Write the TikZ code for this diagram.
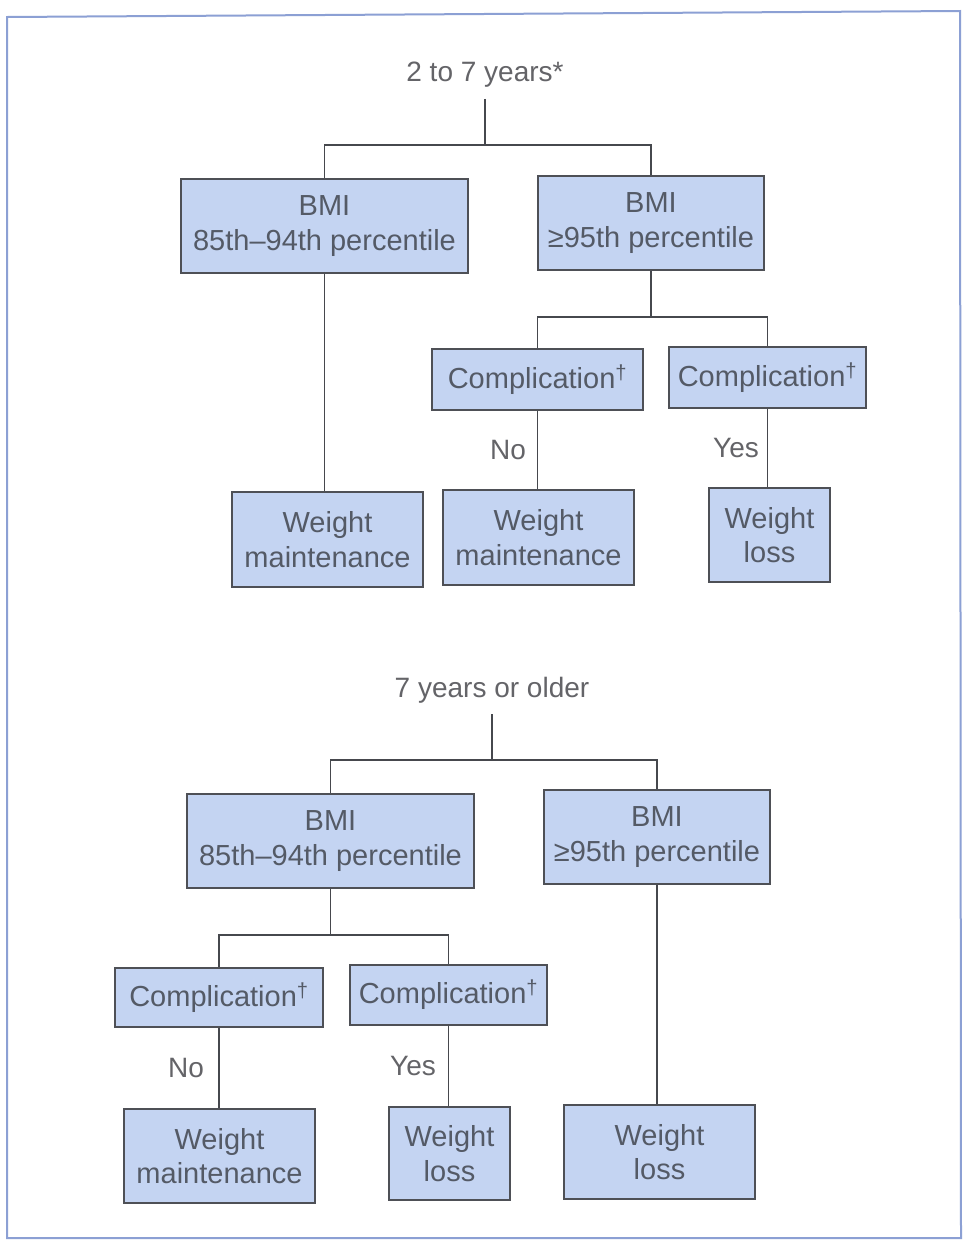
\documentclass[tikz,border=0pt]{standalone}
\usepackage{fontspec}
\setmainfont{Liberation Sans}
\definecolor{boxfill}{RGB}{196,212,242}
\definecolor{boxline}{RGB}{78,80,86}
\definecolor{ink}{RGB}{84,90,102}
\definecolor{lbl}{RGB}{100,100,104}
\definecolor{frame}{RGB}{140,160,212}
\begin{document}
\begin{tikzpicture}[x=1pt,y=-1pt,
  box/.style={draw=boxline, line width=1.8pt, fill=boxfill, inner sep=0pt,
    align=center, text=ink, font=\fontsize{29}{34.5}\selectfont},
  lab/.style={text=lbl, inner sep=0pt, font=\fontsize{28}{34}\selectfont},
  conn/.style={draw=boxline!90!black, line width=1.8pt}]
\useasboundingbox (0,0) rectangle (964,1240);
\fill[white] (0,0) rectangle (964,1240);
% outer frame
\draw[frame, line width=2pt] (7,17) -- (960,11) -- (961,1238) -- (7,1238) -- cycle;

% ---- 2 to 7 years ----
\node[lab, inner sep=11pt] (t1) at (485,75) {2 to 7 years*};
\coordinate (j1) at (485,145);
\node[box, minimum width=287pt, minimum height=94pt] (a1) at (324.5,226) {BMI\\85th–94th percentile};
\node[box, minimum width=226pt, minimum height=94pt] (a2) at (651,223) {BMI\\≥95th percentile};
\node[box, minimum width=191pt, minimum height=95pt] (a3) at (327.5,539.5) {Weight\\maintenance};
\coordinate (j2) at (651,317);
\node[box, minimum width=211pt, minimum height=61pt] (c1) at (537.5,379.5) {Complication\textsuperscript{\textdagger}};
\node[box, minimum width=197pt, minimum height=61pt] (c2) at (767.5,377.5) {Complication\textsuperscript{\textdagger}};
\node[box, minimum width=191pt, minimum height=95pt] (w2) at (538.5,537.5) {Weight\\maintenance};
\node[box, minimum width=121pt, minimum height=94pt] (w3) at (769.5,535) {Weight\\loss};
\node[lab] (n1) at (508,450) {No};
\node[lab] (y1) at (736,448) {Yes};

\draw[conn] (t1.south) -- (j1) -| (a1.north);
\draw[conn] (j1) -| (a2.north);
\draw[conn] (a1.south) -- (a1.south |- a3.north);
\draw[conn] (a2.south) -- (j2) -| (c1.north);
\draw[conn] (j2) -| (c2.north);
\draw[conn] (c1.south) -- (c1.south |- w2.north);
\draw[conn] (c2.south) -- (c2.south |- w3.north);

% ---- 7 years or older ----
\node[lab, inner sep=11pt] (t2) at (492,690) {7 years or older};
\coordinate (j3) at (492,760);
\node[box, minimum width=287pt, minimum height=94pt] (b1) at (330.5,841) {BMI\\85th–94th percentile};
\node[box, minimum width=226pt, minimum height=94pt] (b2) at (657,837) {BMI\\≥95th percentile};
\coordinate (j4) at (330.5,935);
\node[box, minimum width=208pt, minimum height=59pt] (c3) at (219,997.5) {Complication\textsuperscript{\textdagger}};
\node[box, minimum width=197pt, minimum height=60pt] (c4) at (448.5,995) {Complication\textsuperscript{\textdagger}};
\node[box, minimum width=191pt, minimum height=94pt] (w4) at (219.5,1156) {Weight\\maintenance};
\node[box, minimum width=121pt, minimum height=93pt] (w5) at (449.5,1153.5) {Weight\\loss};
\node[box, minimum width=191pt, minimum height=94pt] (w6) at (659.5,1152) {Weight\\loss};
\node[lab] (n2) at (186,1068) {No};
\node[lab] (y2) at (413,1066) {Yes};

\draw[conn] (t2.south) -- (j3) -| (b1.north);
\draw[conn] (j3) -| (b2.north);
\draw[conn] (b1.south) -- (j4) -| (c3.north);
\draw[conn] (j4) -| (c4.north);
\draw[conn] (c3.south) -- (c3.south |- w4.north);
\draw[conn] (c4.south) -- (c4.south |- w5.north);
\draw[conn] (b2.south) -- (b2.south |- w6.north);
\end{tikzpicture}
\end{document}
